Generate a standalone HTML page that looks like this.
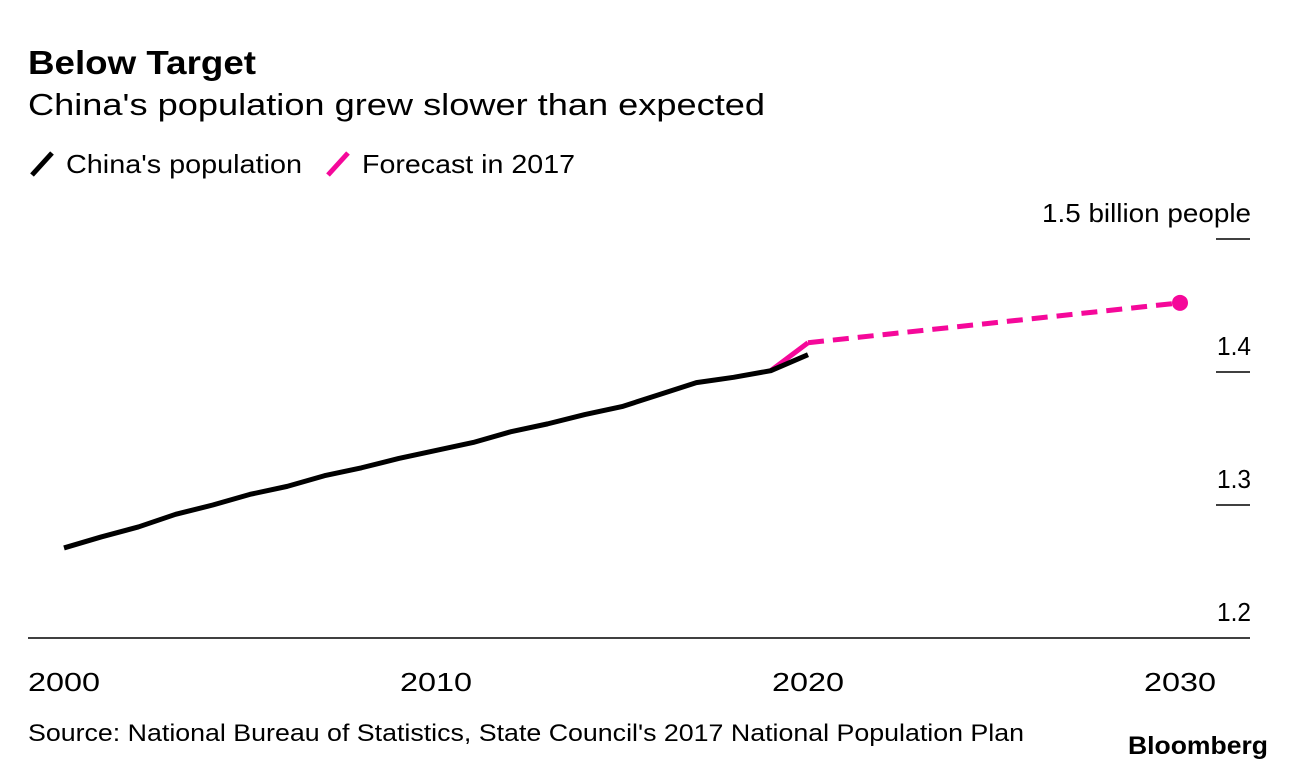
<!DOCTYPE html>
<html><head><meta charset="utf-8"><style>
body{margin:0;background:#fff;font-family:"Liberation Sans",sans-serif;}
svg text{font-family:"Liberation Sans",sans-serif;}
</style></head><body>
<svg id="chart" width="1296" height="772">
<text x="28" y="74" font-size="33" font-weight="bold" fill="#000" textLength="228" lengthAdjust="spacingAndGlyphs">Below Target</text>
<text x="28" y="115" font-size="31" fill="#000" textLength="737" lengthAdjust="spacingAndGlyphs">China's population grew slower than expected</text>
<g>
<line x1="32" y1="175" x2="52" y2="153" stroke="#000" stroke-width="5"/>
<text x="66" y="173" font-size="26" textLength="236" lengthAdjust="spacingAndGlyphs">China's population</text>
<line x1="328" y1="175" x2="348" y2="153" stroke="#f5089a" stroke-width="5"/>
<text x="362" y="173" font-size="26" textLength="213" lengthAdjust="spacingAndGlyphs">Forecast in 2017</text>
</g>
<g id="axes"></g>
<g id="marks"></g>
<text x="28" y="741" font-size="24" textLength="996" lengthAdjust="spacingAndGlyphs">Source: National Bureau of Statistics, State Council's 2017 National Population Plan</text>
<text x="1128" y="754" font-size="25" font-weight="bold" textLength="140" lengthAdjust="spacingAndGlyphs">Bloomberg</text>
</svg>
<script>
const years=[2000,2001,2002,2003,2004,2005,2006,2007,2008,2009,2010,2011,2012,2013,2014,2015,2016,2017,2018,2019,2020];
const population=[1.2677,1.276,1.2835,1.293,1.300,1.308,1.314,1.322,1.328,1.335,1.341,1.347,1.355,1.361,1.368,1.374,1.383,1.392,1.396,1.401,1.413];
const forecastYears=[2019,2020,2030];
const forecast=[1.401,1.422,1.452];
const xTicks=[2000,2010,2020,2030];
const yTicks=[1.2,1.3,1.4,1.5];
const yTickLabels=["1.2","1.3","1.4","1.5 billion people"];
const NS="http://www.w3.org/2000/svg";
const x=v=>64+(v-2000)*37.2;
const y=v=>638-(v-1.2)*1330;
function mk(tag,attrs,parent){const e=document.createElementNS(NS,tag);for(const k in attrs)e.setAttribute(k,attrs[k]);parent.appendChild(e);return e;}
const axes=document.getElementById('axes'),marks=document.getElementById('marks');
yTicks.forEach((t,i)=>{
 if(i>0){const l=mk('line',{x1:1216,x2:1250,y1:y(t),y2:y(t),stroke:'#000','stroke-width':1.5},axes);
 
 }
 const lab=yTickLabels[i];
 const tx=mk('text',{x:1251,y:y(t)-17,'font-size':26,'text-anchor':'end'},axes);tx.textContent=lab;
 if(lab.length>5){tx.setAttribute('textLength',209);tx.setAttribute('lengthAdjust','spacingAndGlyphs');}
 else{tx.setAttribute('textLength',34);tx.setAttribute('lengthAdjust','spacingAndGlyphs');}
 
 
});
const base=mk('line',{x1:28,x2:1250,y1:638,y2:638,stroke:'#000','stroke-width':1.5},axes);


xTicks.forEach(t=>{const tx=mk('text',{x:x(t),y:691,'font-size':26,'text-anchor':'middle',textLength:72,lengthAdjust:'spacingAndGlyphs'},axes);tx.textContent=t;
 
 });
const pts=(xs,vs)=>xs.map((a,i)=>x(a)+','+y(vs[i])).join(' ');
const fs=mk('polyline',{points:pts(forecastYears.slice(0,2),forecast.slice(0,2)),fill:'none',stroke:'#f5089a','stroke-width':5,'stroke-linejoin':'round'},marks);


const fd=mk('polyline',{points:pts(forecastYears.slice(1),forecast.slice(1)),fill:'none',stroke:'#f5089a','stroke-width':5,'stroke-dasharray':'16,9'},marks);


const dot=mk('circle',{cx:x(forecastYears[2]),cy:y(forecast[2]),r:8,fill:'#f5089a'},marks);


const pl=mk('polyline',{points:pts(years,population),fill:'none',stroke:'#000','stroke-width':5,'stroke-linejoin':'round'},marks);


</script>
</body></html>
